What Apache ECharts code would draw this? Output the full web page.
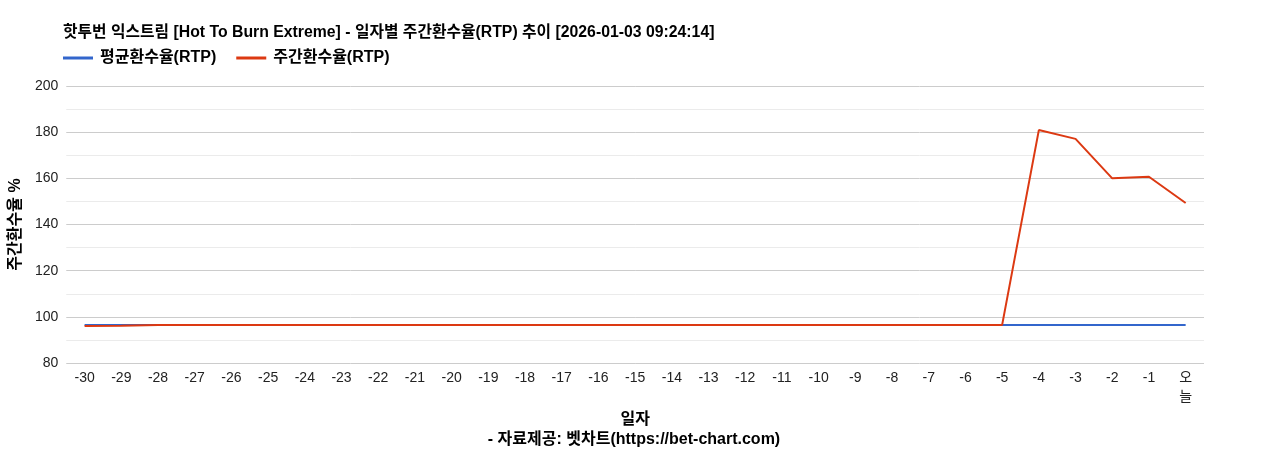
<!DOCTYPE html>
<html><head><meta charset="utf-8">
<script src="https://cdn.jsdelivr.net/npm/echarts@6/dist/echarts.min.js"></script>
<style>html,body{margin:0;padding:0;background:#fff}#c{width:1268px;height:450px}</style>
</head><body><div id="c"></div>
<script>
const categories = ['-30','-29','-28','-27','-26','-25','-24','-23','-22','-21','-20','-19','-18','-17','-16','-15','-14','-13','-12','-11','-10','-9','-8','-7','-6','-5','-4','-3','-2','-1','오늘'];
const avgRTP = [96.5,96.5,96.5,96.5,96.5,96.5,96.5,96.5,96.5,96.5,96.5,96.5,96.5,96.5,96.5,96.5,96.5,96.5,96.5,96.5,96.5,96.5,96.5,96.5,96.5,96.5,96.5,96.5,96.5,96.5,96.5];
const weeklyRTP = [96.0,96.1,96.5,96.5,96.5,96.5,96.5,96.5,96.5,96.5,96.5,96.5,96.5,96.5,96.5,96.5,96.5,96.5,96.5,96.5,96.5,96.5,96.5,96.5,96.5,96.5,180.9,177.1,160.0,160.7,149.3];
const FONT = "Arial, 'Liberation Sans', 'Noto Sans CJK KR'";
const chart = echarts.init(document.getElementById('c'));
chart.setOption({
  animation: false,
  textStyle: {fontFamily: FONT},
  title: [{
    text: '핫투번 익스트림 [Hot To Burn Extreme] - 일자별 주간환수율(RTP) 추이 [2026-01-03 09:24:14]',
    left: 58, top: 20,
    textStyle: {fontSize: 15.8, fontWeight: 'bold', color: '#000', fontFamily: FONT}
  },{
    text: '- 자료제공: 벳차트(https://bet-chart.com)',
    left: 'center', top: 427,
    textStyle: {fontSize: 16, fontWeight: 'bold', color: '#000', fontFamily: FONT}
  }],
  legend: {
    left: 58, top: 45, itemWidth: 30, itemHeight: 3, itemGap: 20,
    icon: 'rect',
    textStyle: {fontSize: 16, fontWeight: 'bold', color: '#000', fontFamily: FONT, padding: [0,0,0,2]},
    data: ['평균환수율(RTP)', '주간환수율(RTP)']
  },
  grid: {left: 63, right: 64, top: 86, bottom: 87, containLabel: false},
  xAxis: {
    type: 'category', data: categories, boundaryGap: true,
    name: '일자', nameLocation: 'middle', nameGap: 42,
    nameTextStyle: {fontSize: 16, fontWeight: 'bold', color: '#000'},
    axisLine: {show: false}, axisTick: {show: false},
    axisLabel: {fontSize: 14, color: '#222', margin: 6, interval: 0,
      formatter: v => v === '오늘' ? '오\n늘' : v, lineHeight: 19}
  },
  yAxis: {
    type: 'value', min: 80, max: 200, interval: 20,
    name: '주간환수율 %', nameLocation: 'middle', nameGap: 39, nameRotate: 90,
    nameTextStyle: {fontSize: 16, fontWeight: 'bold', color: '#000'},
    axisLine: {show: false}, axisTick: {show: false},
    axisLabel: {fontSize: 14, color: '#222', margin: 8},
    splitLine: {lineStyle: {color: '#cccccc', width: 1}},
    minorTick: {show: false, splitNumber: 2},
    minorSplitLine: {show: true, lineStyle: {color: '#ebebeb', width: 1}}
  },
  series: [{
    name: '평균환수율(RTP)', type: 'line', data: avgRTP,
    symbol: 'none', color: '#3366cc', lineStyle: {width: 2}
  },{
    name: '주간환수율(RTP)', type: 'line', data: weeklyRTP,
    symbol: 'none', color: '#dc3912', lineStyle: {width: 2}
  }]
});
</script></body></html>
